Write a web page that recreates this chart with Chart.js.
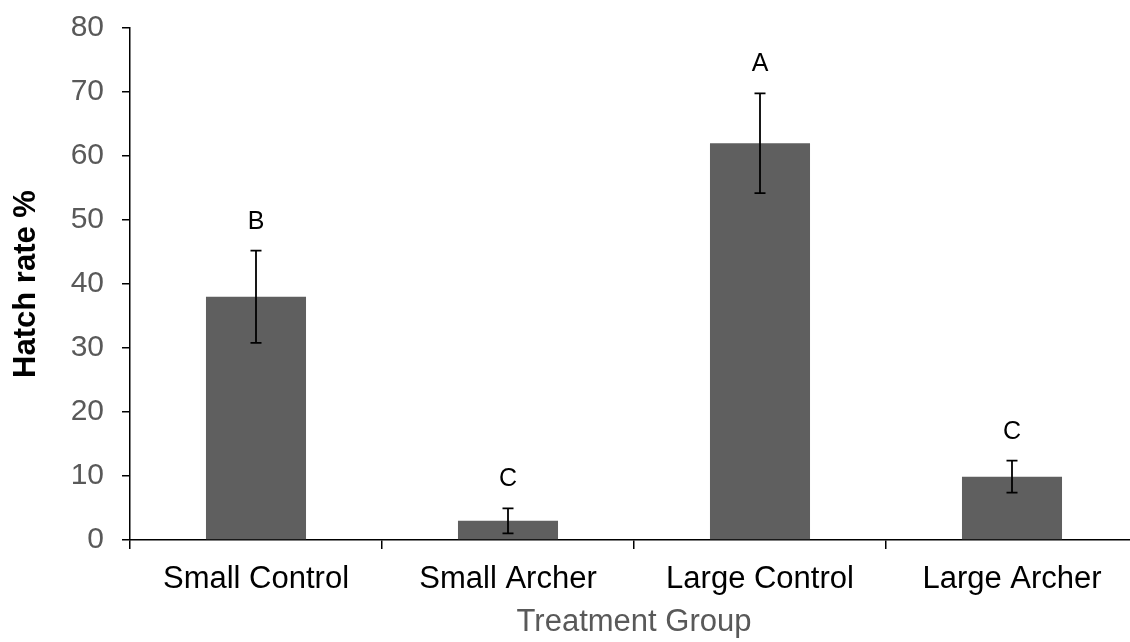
<!DOCTYPE html>
<html>
<head>
<meta charset="utf-8">
<script src="https://cdn.jsdelivr.net/npm/chart.js@4"></script>
<style>
  html, body { margin: 0; padding: 0; background: #fff; overflow: hidden; width: 1130px; height: 642px; }
  #wrap { width: 1140px; height: 642px; }
</style>
</head>
<body>
<div id="wrap"><canvas id="c" width="1140" height="642"></canvas></div>
<script>
const categories = ["Small Control", "Small Archer", "Large Control", "Large Archer"];
const hatchRate = [38, 3, 62, 9.9];
const errorSE = [7.2, 1.95, 7.8, 2.5];
const groupLetters = ["B", "C", "A", "C"];
const yMin = 0, yMax = 80, yStep = 10;

const FONT = "'Liberation Sans', Arial, Helvetica, sans-serif";

const errorPlugin = {
  id: 'errorBarsLetters',
  afterDatasetsDraw(chart) {
    const ctx = chart.ctx;
    const xs = chart.scales.x, ys = chart.scales.y;
    ctx.save();
    ctx.strokeStyle = '#000';
    ctx.lineWidth = 1.8;
    for (let i = 0; i < hatchRate.length; i++) {
      const x = xs.getPixelForValue(i);
      const yTop = ys.getPixelForValue(hatchRate[i] + errorSE[i]);
      const yBot = ys.getPixelForValue(hatchRate[i] - errorSE[i]);
      const cap = 5.5;
      ctx.beginPath();
      ctx.moveTo(x, yTop); ctx.lineTo(x, yBot);
      ctx.moveTo(x - cap, yTop); ctx.lineTo(x + cap, yTop);
      ctx.moveTo(x - cap, yBot); ctx.lineTo(x + cap, yBot);
      ctx.stroke();
      ctx.fillStyle = '#000';
      ctx.font = "25px " + FONT;
      ctx.textAlign = 'center';
      ctx.textBaseline = 'middle';
      ctx.fillText(groupLetters[i], x, yTop - 29);
    }
    ctx.restore();
  }
};

new Chart(document.getElementById('c'), {
  type: 'bar',
  data: {
    labels: categories,
    datasets: [{
      data: hatchRate,
      backgroundColor: '#5f5f5f',
      borderWidth: 0,
      categoryPercentage: 0.397,
      barPercentage: 1.0
    }]
  },
  options: {
    responsive: false,
    animation: false,
    devicePixelRatio: 1,
    layout: { padding: { left: 0, right: 2, top: 28, bottom: 0 } },
    plugins: { legend: { display: false }, tooltip: { enabled: false } },
    scales: {
      x: {
        grid: { display: true, drawOnChartArea: false, drawTicks: true, tickLength: 9, color: '#000', lineWidth: 1.5, offset: true },
        border: { display: true, color: '#000', width: 1.5 },
        ticks: { color: '#000', font: { family: FONT, size: 31 }, padding: 12, maxRotation: 0 },
        title: { display: true, text: 'Treatment Group', color: '#595959', font: { family: FONT, size: 31 }, padding: { top: 0, bottom: 1 } },
        afterFit(scale) { scale.height = 102; scale.paddingLeft = 0; scale.paddingRight = 0; }
      },
      y: {
        min: yMin, max: yMax,
        grid: { display: true, drawOnChartArea: false, drawTicks: true, tickLength: 8, color: '#000', lineWidth: 1.5 },
        border: { display: true, color: '#000', width: 1.5 },
        ticks: { stepSize: yStep, color: '#595959', font: { family: FONT, size: 30 }, padding: 18 },
        title: { display: true, text: 'Hatch rate %', color: '#000', font: { family: FONT, size: 31, weight: 'bold' }, padding: { top: 8, bottom: 0 } },
        afterFit(scale) { scale.width = 130; scale.paddingTop = 0; scale.paddingBottom = 0; }
      }
    }
  },
  plugins: [errorPlugin]
});
</script>
</body>
</html>
